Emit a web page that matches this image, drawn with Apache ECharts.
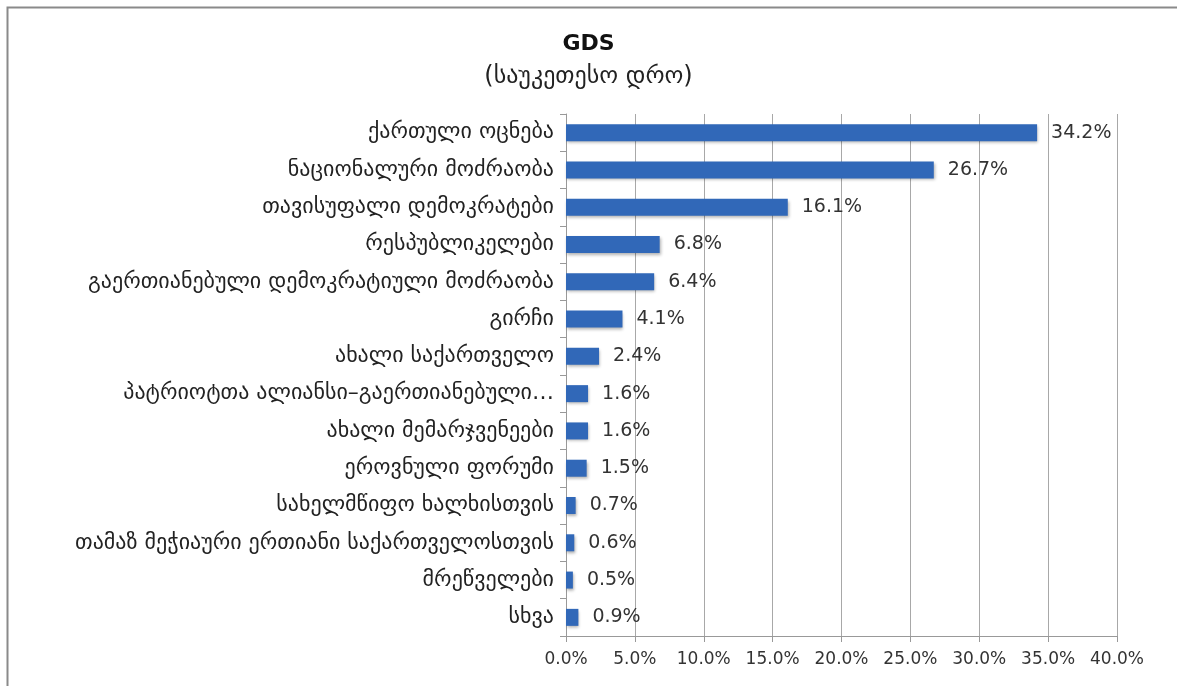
<!DOCTYPE html>
<html><head><meta charset="utf-8">
<script src="https://cdn.jsdelivr.net/npm/echarts@6/dist/echarts.min.js"></script>
<style>html,body{margin:0;padding:0;background:#fff}#c{width:1177px;height:686px}</style>
</head><body><div id="c"></div>
<script>
const titleText = "GDS";
const subtitleText = "(საუკეთესო დრო)";
const categories = [
  "ქართული ოცნება",
  "ნაციონალური მოძრაობა",
  "თავისუფალი დემოკრატები",
  "რესპუბლიკელები",
  "გაერთიანებული დემოკრატიული მოძრაობა",
  "გირჩი",
  "ახალი საქართველო",
  "პატრიოტთა ალიანსი–გაერთიანებული…",
  "ახალი მემარჯვენეები",
  "ეროვნული ფორუმი",
  "სახელმწიფო ხალხისთვის",
  "თამაზ მეჭიაური ერთიანი საქართველოსთვის",
  "მრეწველები",
  "სხვა"
];
const values = [34.2, 26.7, 16.1, 6.8, 6.4, 4.1, 2.4, 1.6, 1.6, 1.5, 0.7, 0.6, 0.5, 0.9];
const axisMin = 0, axisMax = 40, axisStep = 5;

const chart = echarts.init(document.getElementById('c'));
chart.setOption({
  backgroundColor: '#fff',
  animation: false,
  graphic: [{type:'rect', shape:{x:7.5,y:7.5,width:1200,height:700}, style:{fill:'none', stroke:'#8a8a8a', lineWidth:2}, silent:true}],
  title: {
    text: titleText, subtext: subtitleText, left: 'center', top: 28, itemGap: 10,
    textStyle: {fontFamily:'DejaVu Sans', fontWeight:'bold', fontSize:22, color:'#111'},
    subtextStyle: {fontFamily:'DejaVu Sans', fontSize:24, color:'#222'}
  },
  grid: {left: 566, right: 60, top: 114, bottom: 50, containLabel: false},
  xAxis: {
    type:'value', min:axisMin, max:axisMax, interval:axisStep,
    axisLine:{show:true, lineStyle:{color:'#999'}},
    axisTick:{show:true, length:6, lineStyle:{color:'#999'}},
    splitLine:{show:true, lineStyle:{color:'#a8a8a8'}},
    axisLabel:{formatter:v=>v.toFixed(1)+'%', fontFamily:'DejaVu Sans', fontSize:17, color:'#333', margin:15}
  },
  yAxis: {
    type:'category', data:categories, inverse:true,
    axisLine:{show:true, lineStyle:{color:'#999'}},
    axisTick:{show:true, length:6, lineStyle:{color:'#999'}},
    axisLabel:{fontFamily:'DejaVu Sans', fontSize:22, color:'#222', margin:12}
  },
  series: [{
    type:'bar', data:values, barWidth:17,
    itemStyle:{color:'#3168b8', shadowColor:'rgba(0,0,0,0.3)', shadowBlur:3, shadowOffsetX:1, shadowOffsetY:2},
    label:{show:true, position:'right', distance:14, formatter:p=>p.value.toFixed(1)+'%', fontFamily:'DejaVu Sans', fontSize:19, color:'#333'}
  }]
});
</script></body></html>
